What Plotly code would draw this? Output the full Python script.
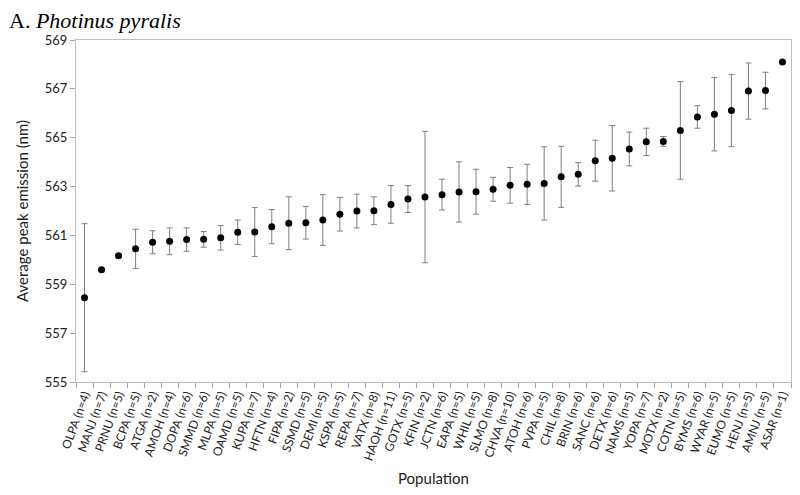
import plotly.graph_objects as go

populations = ["OLPA", "MANJ", "PRNU", "BCPA", "ATGA", "AMOH", "DOPA", "SMMD", "MLPA", "OAMD",
               "KUPA", "HFTN", "FIPA", "SSMD", "DEMI", "KSPA", "REPA", "VATX", "HAOH", "GOTX",
               "KFIN", "JCTN", "EAPA", "WHIL", "SLMO", "CHVA", "ATOH", "PVPA", "CHIL", "BRIN",
               "SANC", "DETX", "NAMS", "YOPA", "MOTX", "COTN", "BYMS", "WYAR", "EUMO", "HENJ",
               "AMNJ", "ASAR"]
sample_sizes = [4, 7, 5, 5, 2, 4, 6, 6, 5, 5,
                7, 4, 2, 5, 5, 5, 7, 8, 11, 5,
                2, 6, 5, 5, 8, 10, 6, 5, 8, 6,
                6, 6, 5, 7, 2, 5, 6, 5, 5, 5,
                5, 1]
mean_peak = [558.45, 559.60, 560.17, 560.45, 560.72, 560.76, 560.83, 560.84, 560.90, 561.13,
             561.14, 561.36, 561.50, 561.52, 561.63, 561.87, 562.00, 562.01, 562.27, 562.49,
             562.57, 562.67, 562.78, 562.79, 562.89, 563.05, 563.09, 563.13, 563.40, 563.50,
             564.06, 564.16, 564.54, 564.83, 564.85, 565.30, 565.85, 565.96, 566.11, 566.91,
             566.93, 568.10]
std_dev = [3.03, 0.05, 0.08, 0.80, 0.47, 0.55, 0.48, 0.32, 0.50, 0.50,
           1.00, 0.70, 1.08, 0.67, 1.04, 0.69, 0.69, 0.57, 0.77, 0.55,
           2.69, 0.63, 1.23, 0.92, 0.49, 0.73, 0.82, 1.50, 1.25, 0.48,
           0.84, 1.34, 0.69, 0.56, 0.20, 2.00, 0.46, 1.50, 1.48, 1.15,
           0.75, 0.0]
y_ticks = [555, 557, 559, 561, 563, 565, 567, 569]

labels = [f"{p} (n={n})" for p, n in zip(populations, sample_sizes)]

fig = go.Figure()

fig.add_trace(go.Scatter(
    x=labels,
    y=mean_peak,
    mode="markers",
    marker=dict(color="black", size=7),
    error_y=dict(type="data", array=std_dev, visible=True,
                 color="#7f7f7f", thickness=1, width=3),
    showlegend=False
))

x_font = dict(family="Lato, Open Sans, sans-serif", size=12, color="#222")
y_font = dict(family="Lato, Open Sans, sans-serif", size=13, color="#222")
title_font = dict(family="Lato, Open Sans, sans-serif", size=15, color="#222")

# page body has an 8px margin, so the figure is sized to sit inside the window
fig.update_layout(
    width=792, height=487,
    margin=dict(l=68, r=8.5, t=32, b=113, autoexpand=False),
    plot_bgcolor="white",
    paper_bgcolor="white",
    font=y_font,
    annotations=[
        dict(text="A. <i>Photinus pyralis</i>",
             xref="paper", yref="paper", x=-0.095, y=1.0, yshift=33,
             xanchor="left", yanchor="top", showarrow=False, borderpad=0,
             font=dict(family="Liberation Serif, serif", size=22, color="black")),
        dict(text="Population", xref="paper", yref="paper", x=0.5, y=0, yshift=-85,
             xanchor="center", yanchor="top", showarrow=False, font=title_font),
    ]
)

fig.update_xaxes(
    type="category",
    range=[-0.5, len(labels) - 0.5],
    tickmode="array", tickvals=labels, ticktext=labels,
    tickangle=-70,
    tickson="boundaries",
    ticks="outside", ticklen=5, tickcolor="#a6a6a6",
    showline=True, linecolor="#bfbfbf", linewidth=1, mirror=True,
    showgrid=False, automargin=False,
    tickfont=x_font,
)

fig.update_yaxes(
    range=[555, 569],
    tickmode="array", tickvals=y_ticks,
    ticks="outside", ticklen=5, tickcolor="#a6a6a6",
    showline=True, linecolor="#bfbfbf", linewidth=1, mirror=True,
    showgrid=False, zeroline=False, automargin=False,
    tickfont=y_font,
    title=dict(text="Average peak emission (nm)", font=title_font, standoff=12)
)

fig.write_html("out.html")
